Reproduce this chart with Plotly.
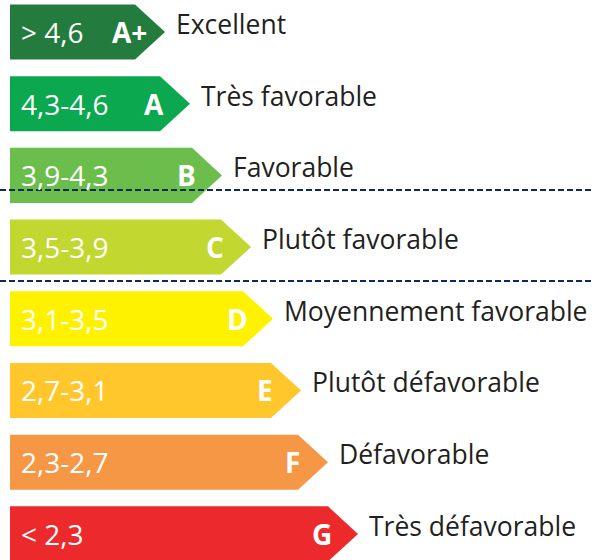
import plotly.graph_objects as go

# ---- data ----
ranges = ["> 4,6", "4,3-4,6", "3,9-4,3", "3,5-3,9", "3,1-3,5", "2,7-3,1", "2,3-2,7", "< 2,3"]
letters = ["A+", "A", "B", "C", "D", "E", "F", "G"]
categories = ["Excellent", "Très favorable", "Favorable", "Plutôt favorable",
              "Moyennement favorable", "Plutôt défavorable", "Défavorable", "Très défavorable"]
bar_end = [135, 160, 192, 221, 243, 271, 298, 328]
colors = ["#237b3e", "#0ca84f", "#6cbe4c", "#c2d730", "#fff200", "#ffc72c", "#f69745", "#ec2a2c"]
separators = [2.204, 3.473]

# ---- styling ----
X0 = 10
TIP = 30
HALF = 0.384
LINE_COLOR = "#0d2a5c"

fig = go.Figure()

for i, (end, col) in enumerate(zip(bar_end, colors)):
    xs = [X0, end, end + TIP, end, X0, X0]
    ys = [i - HALF, i - HALF, i, i + HALF, i + HALF, i - HALF]
    fig.add_trace(go.Scatter(x=xs, y=ys, mode="lines", fill="toself",
                             fillcolor=col, line=dict(width=0, color=col),
                             hoverinfo="skip", showlegend=False))

for s in separators:
    fig.add_trace(go.Scatter(x=[0, 592], y=[s, s], mode="lines",
                             line=dict(color=LINE_COLOR, width=2, dash="6px,3px"),
                             hoverinfo="skip", showlegend=False))

for i in range(len(ranges)):
    fig.add_annotation(x=19, y=i, text=ranges[i], showarrow=False,
                       xanchor="left", yanchor="middle",
                       font=dict(family="Open Sans", size=28, color="white"))
    fig.add_annotation(x=bar_end[i] - 6, y=i, text="<b>%s</b>" % letters[i], showarrow=False,
                       xanchor="center", yanchor="middle",
                       font=dict(family="Open Sans", size=28, color="white"))
    fig.add_annotation(x=bar_end[i] + TIP + 9, y=i, yshift=8, text=categories[i], showarrow=False,
                       xanchor="left", yanchor="middle",
                       font=dict(family="Open Sans", size=26.5, color="#231f20"))

fig.update_layout(
    width=592, height=560,
    margin=dict(l=0, r=0, t=0, b=0),
    paper_bgcolor="white", plot_bgcolor="white",
    xaxis=dict(range=[0, 592], visible=False, fixedrange=True),
    yaxis=dict(range=[7.364, -0.446], visible=False, fixedrange=True),
    showlegend=False,
)

fig.write_html("out.html", config={"displayModeBar": False},
               post_script="document.body.style.margin='0';document.body.style.overflow='hidden';")
